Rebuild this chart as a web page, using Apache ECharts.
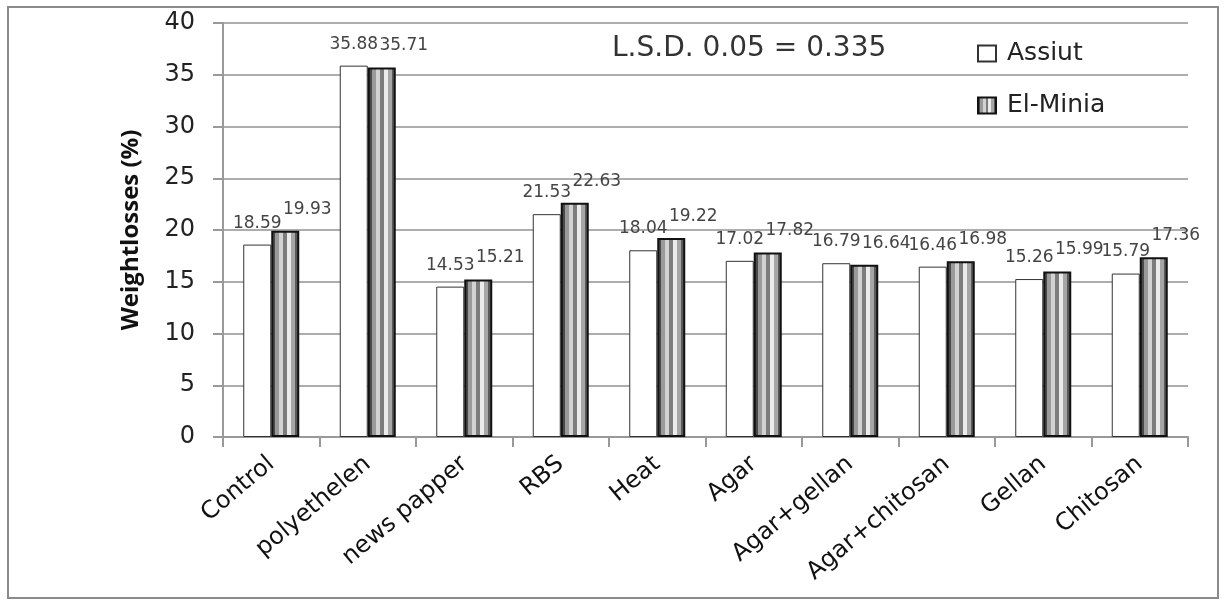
<!DOCTYPE html>
<html>
<head>
<meta charset="utf-8">
<script src="https://cdn.jsdelivr.net/npm/echarts@6/dist/echarts.min.js"></script>
<style>
  html, body { margin: 0; padding: 0; background: #fff; }
  #chart { width: 1224px; height: 606px; }
</style>
</head>
<body>
<div id="chart"></div>
<script>
const categories = ['Control', 'polyethelen', 'news papper', 'RBS', 'Heat', 'Agar', 'Agar+gellan', 'Agar+chitosan', 'Gellan', 'Chitosan'];
const assiut = [18.59, 35.88, 14.53, 21.53, 18.04, 17.02, 16.79, 16.46, 15.26, 15.79];
const elMinia = [19.93, 35.71, 15.21, 22.63, 19.22, 17.82, 16.64, 16.98, 15.99, 17.36];
const seriesNames = ['Assiut', 'El-Minia'];
const yTicks = [0, 5, 10, 15, 20, 25, 30, 35, 40];
const lsdText = 'L.S.D. 0.05 = 0.335';
const yAxisTitle = 'Weightlosses (%)';

const stripeColors = ['#4a4a4a', '#9a9a9a', '#d2d2d2', '#7c7c7c', '#ebebeb', '#a6a6a6', '#5a5a5a'];
const stops = [];
stripeColors.forEach((c, i) => {
  stops.push({ offset: i / stripeColors.length, color: c });
  stops.push({ offset: (i + 1) / stripeColors.length - 0.0001, color: c });
});
const striped = { type: 'linear', x: 0, y: 0, x2: 1, y2: 0, colorStops: stops, global: false };

const chart = echarts.init(document.getElementById('chart'));
const labelFont = { fontFamily: 'DejaVu Sans', fontSize: 17, color: '#444' };

chart.setOption({
  backgroundColor: '#fff',
  animation: false,
  grid: { left: 223, right: 36, top: 23, bottom: 169, containLabel: false },
  legend: {
    orient: 'vertical',
    left: 972,
    top: 36,
    itemWidth: 18,
    itemHeight: 16,
    itemGap: 27,
    icon: 'rect',
    data: seriesNames,
    textStyle: { fontFamily: 'DejaVu Sans', fontSize: 25, color: '#222', padding: [0, 0, 0, 6] }
  },
  xAxis: {
    type: 'category',
    data: categories,
    axisLine: { lineStyle: { color: '#999', width: 2 } },
    axisTick: { show: true, length: 10, lineStyle: { color: '#999', width: 2 } },
    axisLabel: { rotate: 40, margin: 24, fontFamily: 'DejaVu Sans', fontSize: 24, color: '#111', interval: 0 }
  },
  yAxis: {
    type: 'value',
    min: yTicks[0],
    max: yTicks[yTicks.length - 1],
    interval: yTicks[1] - yTicks[0],
    name: yAxisTitle,
    nameLocation: 'middle',
    nameGap: 80,
    nameTextStyle: { fontFamily: 'Open Sans', fontWeight: 'bold', fontSize: 24, color: '#111' },
    axisLine: { show: true, lineStyle: { color: '#999', width: 2 } },
    axisTick: { show: true, length: 10, lineStyle: { color: '#999', width: 2 } },
    axisLabel: { margin: 28, fontFamily: 'DejaVu Sans', fontSize: 24, color: '#222' },
    splitLine: { lineStyle: { color: '#adadad', width: 2 } }
  },
  series: [
    {
      name: seriesNames[0],
      type: 'bar',
      data: assiut,
      barWidth: 28,
      barGap: '0%',
      itemStyle: { color: '#fff', borderColor: '#333', borderWidth: 1 },
      label: { show: true, position: 'top', distance: 13, formatter: p => p.value.toFixed(2), ...labelFont }
    },
    {
      name: seriesNames[1],
      type: 'bar',
      data: elMinia,
      barWidth: 28,
      itemStyle: { color: striped, borderColor: '#111', borderWidth: 2 },
      label: { show: true, position: 'top', distance: 13, offset: [22, 0], formatter: p => p.value.toFixed(2), ...labelFont }
    }
  ],
  graphic: [
    {
      type: 'rect',
      shape: { x: 8, y: 7, width: 1210, height: 591 },
      style: { fill: 'none', stroke: '#8a8a8a', lineWidth: 2 },
      silent: true
    },
    {
      type: 'text',
      left: 612,
      top: 35,
      style: { text: lsdText, fontFamily: 'DejaVu Sans', fontSize: 28, fill: '#333' },
      silent: true
    }
  ]
});
</script>
</body>
</html>
